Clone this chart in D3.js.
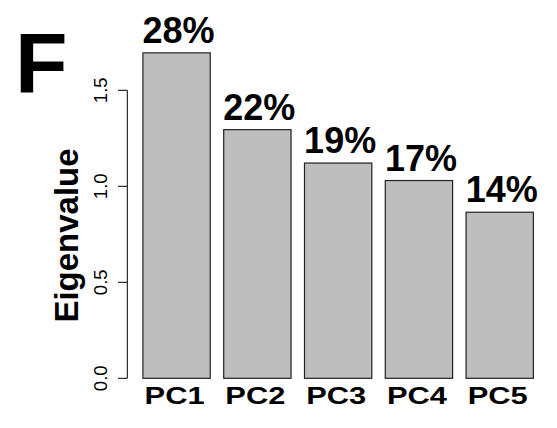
<!DOCTYPE html>
<meta charset="utf-8" />
<html>
<head>
<script src="https://d3js.org/d3.v7.min.js"></script>
<style>
  body { margin: 0; background: white; }
  text { font-family: "Liberation Sans", Arial, sans-serif; }
</style>
</head>
<body>
<script type="text/javascript">
// values
var components = ['PC1', 'PC2', 'PC3', 'PC4', 'PC5'];
var eigenvalues = [1.695, 1.295, 1.121, 1.030, 0.865];
var percentLabels = ['28%', '22%', '19%', '17%', '14%'];
var yTicks = [0, 0.5, 1.0, 1.5];

var width = 557, height = 428;

var svg = d3.select('body').append('svg')
    .attr('width', width)
    .attr('height', height);

// barplot style layout: width 1, space 0.2, 4% padding each side
var x = d3.scaleLinear()
    .domain([-0.032, 6.232])
    .range([127.3, 549]);
var y = d3.scaleLinear()
    .domain([0, 1.5])
    .range([378.3, 90.3]);

var bars = svg.append('g');
bars.selectAll('rect')
    .data(eigenvalues)
    .enter()
    .append('rect')
    .attr('x', function(d, i) { return x(0.2 + i * 1.2); })
    .attr('width', x(1) - x(0))
    .attr('y', function(d) { return y(d); })
    .attr('height', function(d) { return y(0) - y(d); })
    .attr('fill', '#bebebe')
    .attr('stroke', '#222')
    .attr('stroke-width', 1.2);

// percentages on top
bars.selectAll('.pct')
    .data(eigenvalues)
    .enter()
    .append('text')
    .attr('class', 'pct')
    .attr('x', function(d, i) { return x(0.7 + i * 1.2) + 2; })
    .attr('y', function(d) { return y(d) - 10; })
    .attr('text-anchor', 'middle')
    .style('font-size', '36px')
    .style('font-weight', 'bold')
    .text(function(d, i) { return percentLabels[i]; });

// category labels (wide bold face in the original)
bars.selectAll('.cat')
    .data(components)
    .enter()
    .append('text')
    .attr('class', 'cat')
    .attr('transform', function(d, i) {
      return 'translate(' + (x(0.7 + i * 1.2) - 2) + ',403.8) scale(1.26,1)';
    })
    .attr('text-anchor', 'middle')
    .style('font-size', '24.5px')
    .style('font-weight', 'bold')
    .text(function(d) { return d; });

// y axis, R style with rotated tick labels
var axis = svg.append('g');
axis.append('line')
    .attr('x1', 127.3).attr('x2', 127.3)
    .attr('y1', y(0)).attr('y2', y(1.5))
    .attr('stroke', 'black').attr('stroke-width', 1);
axis.selectAll('.tick')
    .data(yTicks)
    .enter()
    .append('line')
    .attr('x1', 127.3).attr('x2', 118)
    .attr('y1', function(d) { return y(d); })
    .attr('y2', function(d) { return y(d); })
    .attr('stroke', 'black').attr('stroke-width', 1);
axis.selectAll('.tlab')
    .data(yTicks)
    .enter()
    .append('text')
    .attr('transform', function(d) { return 'translate(106.5,' + y(d) + ') rotate(-90)'; })
    .attr('text-anchor', 'middle')
    .style('font-size', '18.5px')
    .text(function(d) { return d3.format('.1f')(d); });

svg.append('text')
    .attr('transform', 'translate(77.5,235.5) rotate(-90)')
    .attr('text-anchor', 'middle')
    .style('font-size', '33px')
    .style('font-weight', 'bold')
    .text('Eigenvalue');

svg.append('text')
    .attr('x', 15)
    .attr('y', 93.3)
    .style('font-size', '86px')
    .style('font-weight', 'bold')
    .text('F');
</script>
</body>
</html>
